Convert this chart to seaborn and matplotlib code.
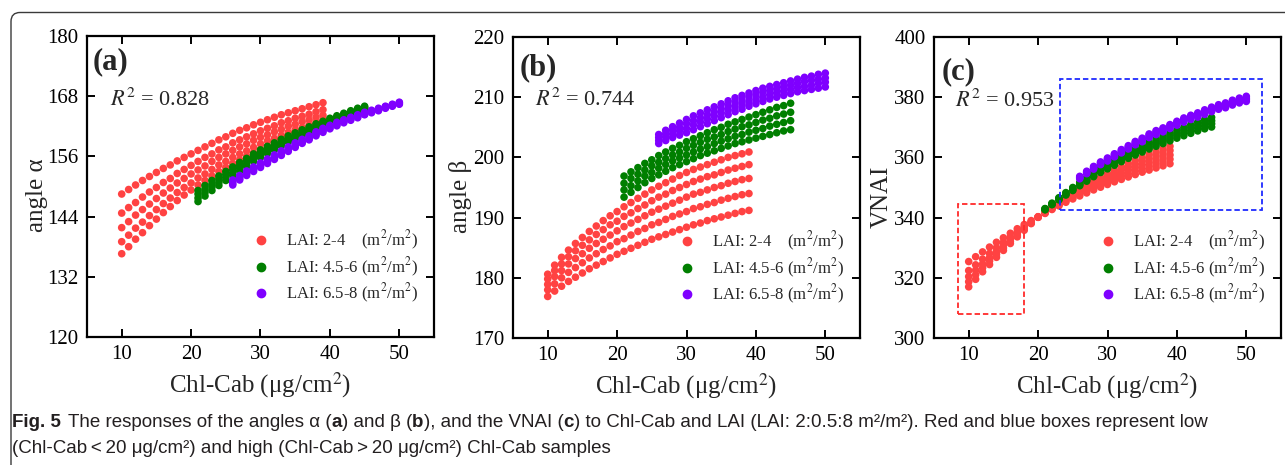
import matplotlib
matplotlib.use("Agg")
import matplotlib.pyplot as plt
import pandas as pd
import seaborn as sns
from matplotlib.patches import Rectangle, FancyBboxPatch
from matplotlib.lines import Line2D

# ---------------- data ----------------
CHL_LOW = [10, 11, 12, 13, 14, 15, 16, 17, 18, 19, 20, 21, 22, 23, 24,
           25, 26, 27, 28, 29, 30, 31, 32, 33, 34, 35, 36, 37, 38, 39]
CHL_MID = [21, 22, 23, 24, 25, 26, 27, 28, 29, 30, 31, 32, 33, 34, 35,
           36, 37, 38, 39, 40, 41, 42, 43, 44, 45]
CHL_HIGH = [26, 27, 28, 29, 30, 31, 32, 33, 34, 35, 36, 37, 38, 39, 40,
            41, 42, 43, 44, 45, 46, 47, 48, 49, 50]

GROUPS = ["LAI: 2-4", "LAI: 4.5-6", "LAI: 6.5-8"]
LEGEND_LABELS = ["LAI: 2-4    (m$^2$/m$^2$)",
                 "LAI: 4.5-6 (m$^2$/m$^2$)",
                 "LAI: 6.5-8 (m$^2$/m$^2$)"]

# (a) angle alpha
ALPHA_LOW = [
    [148.5, 149.4, 150.3, 151.2, 152.0, 152.8, 153.6, 154.3, 155.1, 155.8, 156.5, 157.2, 157.9, 158.6, 159.3,
     159.9, 160.6, 161.2, 161.7, 162.3, 162.8, 163.3, 163.8, 164.3, 164.7, 165.1, 165.5, 165.9, 166.3, 166.7],
    [144.7, 145.8, 146.8, 147.9, 148.9, 149.8, 150.8, 151.6, 152.6, 153.4, 154.2, 155.0, 155.8, 156.5, 157.3,
     157.9, 158.7, 159.3, 159.9, 160.5, 161.1, 161.6, 162.1, 162.7, 163.1, 163.6, 164.0, 164.4, 164.9, 165.3],
    [141.8, 143.0, 144.3, 145.4, 146.5, 147.6, 148.7, 149.7, 150.7, 151.6, 152.5, 153.3, 154.1, 155.0, 155.8,
     156.5, 157.2, 157.9, 158.5, 159.2, 159.8, 160.3, 160.9, 161.4, 162.0, 162.4, 162.9, 163.3, 163.8, 164.2],
    [139.0, 140.3, 141.7, 142.9, 144.2, 145.4, 146.6, 147.7, 148.8, 149.8, 150.7, 151.7, 152.5, 153.4, 154.3,
     155.0, 155.8, 156.5, 157.1, 157.8, 158.5, 159.1, 159.6, 160.2, 160.8, 161.3, 161.7, 162.2, 162.7, 163.2],
    [136.6, 138.0, 139.5, 140.8, 142.2, 143.5, 144.8, 146.0, 147.2, 148.3, 149.3, 150.3, 151.2, 152.1, 153.0,
     153.8, 154.6, 155.3, 156.0, 156.7, 157.4, 158.0, 158.6, 159.2, 159.8, 160.3, 160.8, 161.3, 161.8, 162.3],
]
ALPHA_MID = [
    [149.2, 150.2, 151.2, 152.1, 153.0, 153.9, 154.8, 155.6, 156.5, 157.3, 158.0, 158.7, 159.4, 160.1, 160.7,
     161.3, 161.9, 162.5, 163.0, 163.6, 164.1, 164.6, 165.1, 165.6, 166.0],
    [148.5, 149.5, 150.5, 151.5, 152.4, 153.3, 154.2, 155.1, 156.0, 156.8, 157.5, 158.2, 159.0, 159.7, 160.3,
     160.9, 161.5, 162.2, 162.7, 163.3, 163.8, 164.3, 164.9, 165.4, 165.8],
    [147.7, 148.8, 149.9, 150.8, 151.8, 152.7, 153.7, 154.5, 155.5, 156.3, 157.0, 157.8, 158.5, 159.3, 159.9,
     160.5, 161.2, 161.8, 162.3, 163.0, 163.5, 164.1, 164.6, 165.1, 165.6],
    [147.0, 148.1, 149.2, 150.2, 151.2, 152.2, 153.1, 154.0, 155.0, 155.8, 156.6, 157.3, 158.1, 158.9, 159.5,
     160.2, 160.8, 161.5, 162.0, 162.7, 163.2, 163.8, 164.4, 164.9, 165.4],
]
ALPHA_HIGH = [
    [151.3, 152.2, 153.1, 153.9, 154.7, 155.5, 156.3, 157.1, 157.9, 158.7, 159.4, 160.1, 160.9, 161.6, 162.2,
     162.8, 163.3, 163.8, 164.3, 164.8, 165.2, 165.6, 166.0, 166.4, 166.8],
    [151.0, 151.9, 152.8, 153.6, 154.4, 155.2, 156.0, 156.8, 157.6, 158.4, 159.1, 159.8, 160.6, 161.3, 162.0,
     162.6, 163.1, 163.6, 164.1, 164.6, 165.0, 165.4, 165.9, 166.3, 166.7],
    [150.6, 151.6, 152.5, 153.3, 154.1, 154.9, 155.7, 156.5, 157.3, 158.1, 158.8, 159.5, 160.4, 161.1, 161.7,
     162.3, 162.9, 163.4, 163.9, 164.4, 164.9, 165.3, 165.7, 166.1, 166.5],
    [150.3, 151.3, 152.2, 153.0, 153.8, 154.6, 155.4, 156.2, 157.0, 157.8, 158.6, 159.3, 160.1, 160.8, 161.5,
     162.1, 162.7, 163.2, 163.7, 164.3, 164.7, 165.1, 165.6, 166.0, 166.4],
]

# (b) angle beta
BETA_LOW = [
    [176.9, 177.8, 178.6, 179.4, 180.1, 180.8, 181.5, 182.1, 182.7, 183.3, 183.9, 184.4, 184.9, 185.4, 185.9,
     186.4, 186.8, 187.2, 187.6, 188.0, 188.4, 188.8, 189.1, 189.5, 189.8, 190.1, 190.4, 190.7, 191.0, 191.2],
    [178.0, 179.0, 180.0, 180.9, 181.7, 182.5, 183.3, 184.0, 184.7, 185.3, 186.0, 186.5, 187.1, 187.7, 188.2,
     188.8, 189.2, 189.7, 190.2, 190.6, 191.0, 191.5, 191.8, 192.2, 192.5, 192.9, 193.2, 193.5, 193.8, 194.0],
    [178.9, 180.2, 181.2, 182.3, 183.2, 184.0, 184.9, 185.7, 186.4, 187.1, 187.8, 188.5, 189.1, 189.7, 190.3,
     190.9, 191.4, 191.9, 192.4, 192.9, 193.4, 193.9, 194.2, 194.6, 195.0, 195.3, 195.7, 196.0, 196.3, 196.5],
    [179.8, 181.2, 182.3, 183.5, 184.5, 185.4, 186.3, 187.2, 188.0, 188.8, 189.4, 190.2, 190.8, 191.5, 192.1,
     192.8, 193.4, 193.9, 194.5, 195.0, 195.5, 196.0, 196.4, 196.8, 197.1, 197.5, 197.9, 198.2, 198.5, 198.8],
    [180.6, 182.1, 183.4, 184.6, 185.7, 186.7, 187.7, 188.6, 189.5, 190.3, 191.0, 191.8, 192.5, 193.2, 193.9,
     194.6, 195.2, 195.8, 196.4, 197.0, 197.5, 198.0, 198.4, 198.8, 199.2, 199.6, 200.0, 200.3, 200.6, 200.9],
]
BETA_MID = [
    [193.4, 194.2, 195.0, 195.8, 196.5, 197.1, 197.7, 198.3, 198.8, 199.3, 199.8, 200.3, 200.7, 201.1, 201.5,
     201.9, 202.3, 202.6, 202.9, 203.2, 203.5, 203.8, 204.1, 204.4, 204.6],
    [194.6, 195.3, 196.1, 196.9, 197.5, 198.2, 198.8, 199.4, 199.9, 200.4, 200.9, 201.4, 201.8, 202.3, 202.7,
     203.1, 203.5, 203.8, 204.2, 204.5, 204.8, 205.2, 205.5, 205.8, 206.1],
    [195.7, 196.5, 197.2, 197.9, 198.6, 199.2, 199.8, 200.4, 200.9, 201.5, 202.0, 202.5, 203.0, 203.4, 203.8,
     204.3, 204.7, 205.1, 205.4, 205.8, 206.2, 206.5, 206.9, 207.2, 207.5],
    [196.9, 197.6, 198.3, 199.0, 199.6, 200.3, 200.9, 201.5, 202.0, 202.6, 203.1, 203.6, 204.1, 204.6, 205.0,
     205.5, 205.9, 206.3, 206.7, 207.1, 207.5, 207.9, 208.3, 208.6, 209.0],
]
BETA_HIGH = [
    [202.3, 202.8, 203.3, 203.7, 204.1, 204.6, 205.1, 205.6, 206.1, 206.6, 207.1, 207.6, 208.0, 208.5, 208.9,
     209.3, 209.7, 210.0, 210.3, 210.6, 210.9, 211.1, 211.3, 211.5, 211.7],
    [202.8, 203.4, 203.9, 204.4, 204.8, 205.4, 205.9, 206.4, 206.9, 207.4, 207.9, 208.4, 208.8, 209.2, 209.6,
     210.0, 210.4, 210.7, 211.0, 211.3, 211.6, 211.8, 212.0, 212.3, 212.5],
    [203.3, 203.9, 204.5, 205.0, 205.6, 206.1, 206.6, 207.1, 207.6, 208.1, 208.6, 209.1, 209.5, 210.0, 210.4,
     210.8, 211.1, 211.4, 211.7, 212.0, 212.3, 212.6, 212.8, 213.0, 213.2],
    [203.8, 204.5, 205.1, 205.7, 206.3, 206.9, 207.4, 207.9, 208.4, 208.9, 209.4, 209.9, 210.3, 210.7, 211.1,
     211.5, 211.8, 212.1, 212.4, 212.7, 213.0, 213.3, 213.5, 213.8, 214.0],
]

# (c) VNAI
VNAI_LOW = [
    [325.4, 327.0, 328.6, 330.2, 331.8, 333.3, 334.8, 336.3, 337.7, 339.0, 340.3, 341.9, 343.5, 345.0, 346.5,
     348.0, 349.4, 350.8, 352.1, 353.4, 354.6, 355.8, 356.9, 358.0, 359.0, 360.0, 361.0, 361.9, 362.8, 363.7],
    [322.4, 324.3, 326.2, 328.1, 330.0, 331.8, 333.6, 335.3, 337.0, 338.6, 340.2, 341.8, 343.3, 344.7, 346.2,
     347.6, 348.9, 350.2, 351.4, 352.6, 353.7, 354.8, 355.9, 356.9, 357.8, 358.8, 359.7, 360.6, 361.4, 362.3],
    [320.4, 322.5, 324.6, 326.7, 328.8, 330.8, 332.8, 334.7, 336.6, 338.4, 340.2, 341.7, 343.1, 344.5, 345.8,
     347.1, 348.3, 349.5, 350.7, 351.8, 352.8, 353.9, 354.8, 355.8, 356.7, 357.6, 358.4, 359.2, 360.0, 360.8],
    [318.7, 321.0, 323.3, 325.6, 327.8, 329.9, 332.1, 334.1, 336.2, 338.2, 340.1, 341.5, 342.9, 344.2, 345.5,
     346.7, 347.8, 348.9, 349.9, 350.9, 351.9, 352.9, 353.8, 354.6, 355.5, 356.3, 357.1, 357.9, 358.6, 359.4],
    [317.0, 319.5, 322.0, 324.4, 326.8, 329.1, 331.4, 333.6, 335.8, 338.0, 340.1, 341.4, 342.7, 343.9, 345.1,
     346.2, 347.2, 348.2, 349.2, 350.1, 351.0, 351.9, 352.7, 353.5, 354.3, 355.1, 355.8, 356.5, 357.2, 357.9],
]
VNAI_MID = [
    [343.0, 344.8, 346.6, 348.3, 350.0, 351.7, 353.3, 354.9, 356.4, 357.8, 359.1, 360.4, 361.6, 362.8, 363.9,
     365.0, 366.0, 367.0, 368.0, 369.0, 369.9, 370.8, 371.7, 372.5, 373.3],
    [342.9, 344.6, 346.4, 348.0, 349.7, 351.3, 352.9, 354.5, 355.9, 357.3, 358.5, 359.8, 361.0, 362.1, 363.2,
     364.3, 365.2, 366.2, 367.2, 368.1, 369.0, 369.9, 370.7, 371.5, 372.2],
    [342.7, 344.4, 346.1, 347.7, 349.3, 351.0, 352.5, 354.0, 355.4, 356.7, 358.0, 359.2, 360.3, 361.5, 362.5,
     363.5, 364.5, 365.4, 366.3, 367.3, 368.1, 368.9, 369.8, 370.5, 371.2],
    [342.6, 344.3, 345.9, 347.5, 349.0, 350.6, 352.1, 353.6, 355.0, 356.2, 357.4, 358.6, 359.7, 360.8, 361.8,
     362.8, 363.7, 364.6, 365.5, 366.4, 367.2, 368.0, 368.8, 369.5, 370.1],
]
VNAI_HIGH = [
    [353.7, 355.4, 357.0, 358.5, 359.8, 361.2, 362.6, 363.9, 365.3, 366.4, 367.8, 368.9, 369.8, 370.9, 372.0,
     373.1, 374.0, 374.8, 375.8, 376.7, 377.5, 378.1, 379.0, 379.7, 380.3],
    [353.4, 355.1, 356.7, 358.2, 359.5, 360.9, 362.2, 363.5, 364.9, 366.0, 367.4, 368.5, 369.4, 370.5, 371.6,
     372.6, 373.5, 374.3, 375.3, 376.2, 377.0, 377.6, 378.5, 379.2, 379.7],
    [353.2, 354.8, 356.4, 357.9, 359.1, 360.5, 361.9, 363.2, 364.5, 365.6, 367.0, 368.1, 368.9, 370.0, 371.1,
     372.2, 373.1, 373.8, 374.8, 375.7, 376.5, 377.0, 377.9, 378.6, 379.2],
    [352.9, 354.6, 356.1, 357.6, 358.8, 360.2, 361.5, 362.8, 364.2, 365.2, 366.6, 367.6, 368.5, 369.6, 370.7,
     371.7, 372.6, 373.4, 374.3, 375.2, 376.0, 376.5, 377.4, 378.1, 378.6],
]

R2_VALUES = ["0.828", "0.744", "0.953"]
PANEL_LETTERS = ["(a)", "(b)", "(c)"]
Y_LABELS = ["angle \u03b1", "angle \u03b2", "VNAI"]

# ---------------- styling ----------------
sns.set_style("ticks")
plt.rcParams["font.family"] = ["Liberation Serif", "DejaVu Serif"]
plt.rcParams["mathtext.fontset"] = "stix"

PALETTE = {GROUPS[0]: "#FF4242", GROUPS[1]: "#007F00", GROUPS[2]: "#7F00FF"}


def long_frame(low, mid, high):
    rows = []
    for group, chl, curves in ((GROUPS[0], CHL_LOW, low),
                               (GROUPS[1], CHL_MID, mid),
                               (GROUPS[2], CHL_HIGH, high)):
        for k, curve in enumerate(curves):
            for x, y in zip(chl, curve):
                rows.append({"chl": x, "val": y, "group": group, "curve": k})
    return pd.DataFrame(rows)


frames = [long_frame(ALPHA_LOW, ALPHA_MID, ALPHA_HIGH),
          long_frame(BETA_LOW, BETA_MID, BETA_HIGH),
          long_frame(VNAI_LOW, VNAI_MID, VNAI_HIGH)]

W, H = 1285, 465
fig = plt.figure(figsize=(W / 100, H / 100), dpi=100)

# axes boxes in pixels (left, top, right, bottom)
boxes = [(87, 36, 434, 337), (513, 37, 860, 338), (934, 37, 1281, 338)]
ylims = [(120, 180), (170, 220), (300, 400)]
yticks = [[120, 132, 144, 156, 168, 180],
          [170, 180, 190, 200, 210, 220],
          [300, 320, 340, 360, 380, 400]]
letter_pos = [(0.015, 0.915), (0.02, 0.898), (0.022, 0.885)]
r2_pos = [(0.067, 0.787), (0.063, 0.792), (0.061, 0.79)]
ylabel_x = [-0.112, -0.118, -0.118]

for i, df in enumerate(frames):
    l, t, r, b = boxes[i]
    ax = fig.add_axes([l / W, 1 - b / H, (r - l) / W, (b - t) / H])
    sns.scatterplot(data=df, x="chl", y="val", hue="group", hue_order=GROUPS,
                    palette=PALETTE, s=30, linewidth=0, legend=False, ax=ax)
    ax.set_xlim(5, 55)
    ax.set_ylim(*ylims[i])
    ax.set_xticks([10, 20, 30, 40, 50])
    ax.set_yticks(yticks[i])
    ax.tick_params(direction="in", length=5.5, width=1.4, top=True, right=True,
                   labelsize=15, pad=6, colors="black")
    for sp in ax.spines.values():
        sp.set_linewidth(1.6)
        sp.set_color("black")
    ax.set_xlabel("Chl-Cab (\u03bcg/cm$^2$)", fontsize=18)
    ax.set_ylabel(Y_LABELS[i], fontsize=18)
    ax.xaxis.set_label_coords(0.5, -0.11)
    ax.yaxis.set_label_coords(ylabel_x[i], 0.47)
    ax.text(*letter_pos[i], PANEL_LETTERS[i], transform=ax.transAxes,
            fontsize=22, fontweight="bold", va="center", ha="left")
    ax.text(*r2_pos[i], "$R^2$ = " + R2_VALUES[i], transform=ax.transAxes,
            fontsize=16, va="center", ha="left")
    handles = [Line2D([], [], marker="o", ls="", color=PALETTE[g], markersize=6)
               for g in GROUPS]
    ax.legend(handles, LEGEND_LABELS, loc="center left",
              bbox_to_anchor=(0.478, 0.232), frameon=False, fontsize=12,
              handlelength=1.0, handletextpad=1.0, borderpad=0,
              borderaxespad=0, labelspacing=0.2)
    if i == 2:
        ax.add_patch(Rectangle((8.5, 308.0), 9.5, 36.4, fill=False,
                               ec="#FF2A2A", lw=1.3, ls=(0, (3, 1.6))))
        ax.add_patch(Rectangle((23.2, 342.5), 29.0, 43.5, fill=False,
                               ec="#1F2BFF", lw=1.3, ls=(0, (3, 1.6))))

# outer rounded frame (clipped by the figure edge on right and bottom)
frame = FancyBboxPatch((11, -100), 1600, 100 + (H - 12.5), transform=None,
                       boxstyle="round,pad=0,rounding_size=9", fill=False,
                       ec="#3a3a3a", lw=1.0)
fig.add_artist(frame)

# caption, composed of bold and regular pieces
cap_font = ["Liberation Sans", "DejaVu Sans"]
cap_size = 13.5
renderer = fig.canvas.get_renderer()


def write_line(pieces, x0, y0):
    x = x0
    for txt, bold, gap in pieces:
        x += gap
        tobj = fig.text(x / W, 1 - y0 / H, txt, fontsize=cap_size,
                        family=cap_font, fontweight="bold" if bold else "normal",
                        va="baseline", ha="left", color="#231f20")
        x += tobj.get_window_extent(renderer=renderer).width


line1 = [("Fig. 5", True, 0),
         ("The responses of the angles \u03b1 (", False, 7),
         ("a", True, 0), (") and \u03b2 (", False, 0), ("b", True, 0),
         ("), and the VNAI (", False, 0), ("c", True, 0),
         (") to Chl-Cab and LAI (LAI: 2:0.5:8 m\u00b2/m\u00b2). Red and blue boxes represent low",
          False, 0)]
line2 = [("(Chl-Cab\u2009<\u200920 \u03bcg/cm\u00b2) and high (Chl-Cab\u2009>\u200920 \u03bcg/cm\u00b2) Chl-Cab samples",
          False, 0)]
write_line(line1, 12, 427)
write_line(line2, 12, 453)

fig.savefig("out.png", dpi=100)
